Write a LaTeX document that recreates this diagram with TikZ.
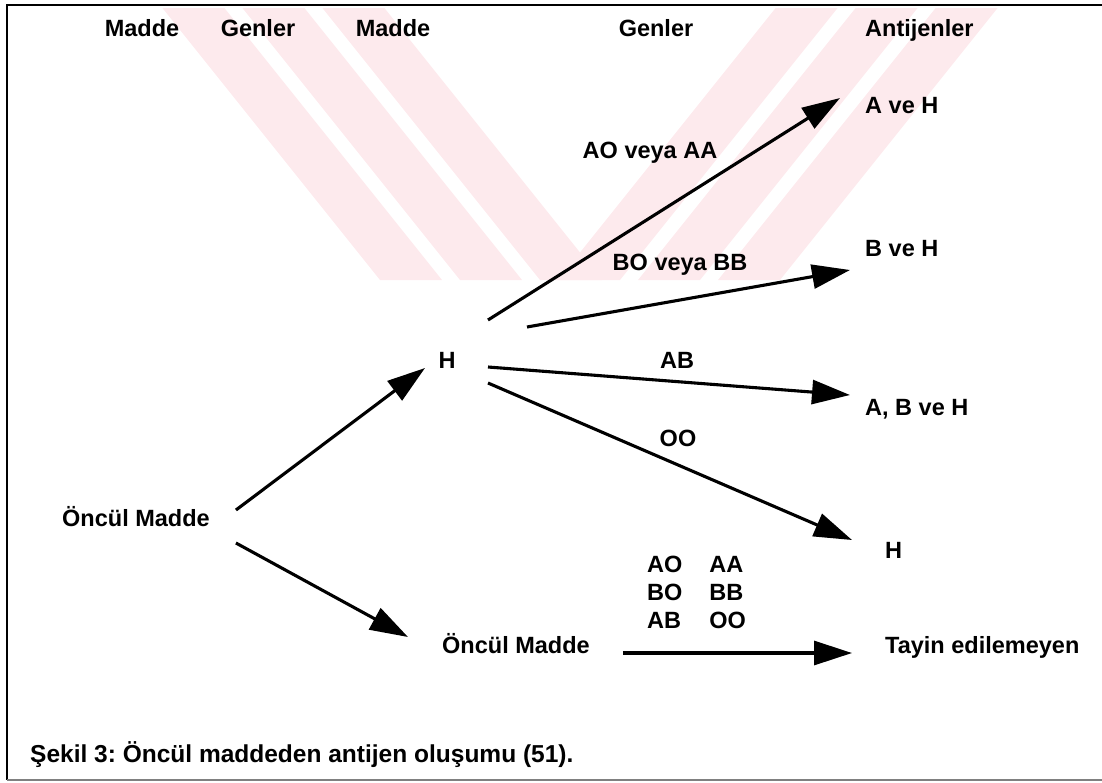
\documentclass[tikz,border=0pt]{standalone}
\usepackage{fontspec}
\setmainfont{Liberation Sans}
\usetikzlibrary{arrows.meta,calc}

\definecolor{wmpink}{RGB}{253,234,237}

\tikzset{
  lbl/.style={font=\fontsize{23.5}{28}\selectfont\bfseries, inner sep=0pt},
  arr/.style={-{Triangle[length=38pt,width=24pt]}, line width=3.1pt},
}

\begin{document}
\frenchspacing
\begin{tikzpicture}[x=1pt,y=-1pt] %Oncul maddeden antijen olusumu
        \useasboundingbox (0,0) rectangle (1102,782);

        % filigran
        \begin{scope}
          \clip (160,8) rectangle (1000,280);
          \foreach \a in {160,240,320}
            \fill[wmpink] (\a,5) -- ++(62,0) -- ++(220,275) -- ++(-62,0) -- cycle;
          \foreach \a in {1000,920,840}
            \fill[wmpink] (\a,5) -- ++(-62,0) -- ++(-220,275) -- ++(62,0) -- cycle;
        \end{scope}

        % cerceve
        \draw[line width=2.6pt] (1102,5) -- (7,5) -- (7,780);
        \draw[gray, line width=1.5pt] (7,780) -- (1102,780);

        % basliklar
        \node[lbl] (h1) at (142,28) {Madde};
        \node[lbl] (h2) at (258,28) {Genler};
        \node[lbl] (h3) at (393,28) {Madde};
        \node[lbl] (h4) at (656,28) {Genler};
        \node[lbl, anchor=base west] (h5) at (865,36) {Antijenler};

        % maddeler
        \node[lbl, anchor=base west] (pre) at (62,526) {Öncül Madde};
        \node[lbl] (hmid) at (447,360) {H};
        \node[lbl, anchor=base west] (pre2) at (442,653) {Öncül Madde};

        % antijenler
        \node[lbl, anchor=base west] (aveh) at (865,113) {A ve H};
        \node[lbl, anchor=base west] (bveh) at (865,256) {B ve H};
        \node[lbl, anchor=base west] (abveh) at (865,415) {A, B ve H};
        \node[lbl, anchor=base west] (honly) at (885,558) {H};
        \node[lbl, anchor=base west] (tayin) at (885,653) {Tayin edilemeyen};

        % genler
        \node[lbl] (gAO) at (650,153) {AO veya AA};
        \node[lbl] (gBO) at (680,265) {BO veya BB};
        \node[lbl] (gAB) at (677,360) {AB};
        \node[lbl] (gOO) at (678,438) {OO};
        \node[lbl, anchor=west] (gtab) at (647,595)
          {\begin{tabular}{@{}l@{\hspace{27pt}}l@{}}AO & AA\\ BO & BB\\ AB & OO\end{tabular}};

        % oklar
        \draw[arr] ($(pre.base east)+(26,-16)$) -- ($(hmid.center)+(-22,8)$);
        \draw[arr] ($(pre.base east)+(26,17)$) -- ($(pre2.base west)+(-34,-16)$);
        \draw[arr] ($(hmid.center)+(41,-40)$) -- ($(aveh.base west)+(-25,-15)$);
        \draw[arr] ($(hmid.center)+(80,-33)$) -- ($(bveh.base west)+(-15,14)$);
        \draw[arr] ($(hmid.center)+(41,7)$) -- ($(abveh.base west)+(-15,-20)$);
        \draw[arr] ($(hmid.center)+(41,23)$) -- ($(honly.base west)+(-33,-18)$);
        \draw[arr] ($(pre2.base east)+(33,0)$) -- ($(tayin.base west)+(-33,0)$);

        \node[lbl, font=\fontsize{24.5}{28}\selectfont\bfseries, anchor=base west] (cap) at (30,762)
          {Şekil 3: Öncül maddeden antijen oluşumu (51).};
    \end{tikzpicture}
\end{document}
